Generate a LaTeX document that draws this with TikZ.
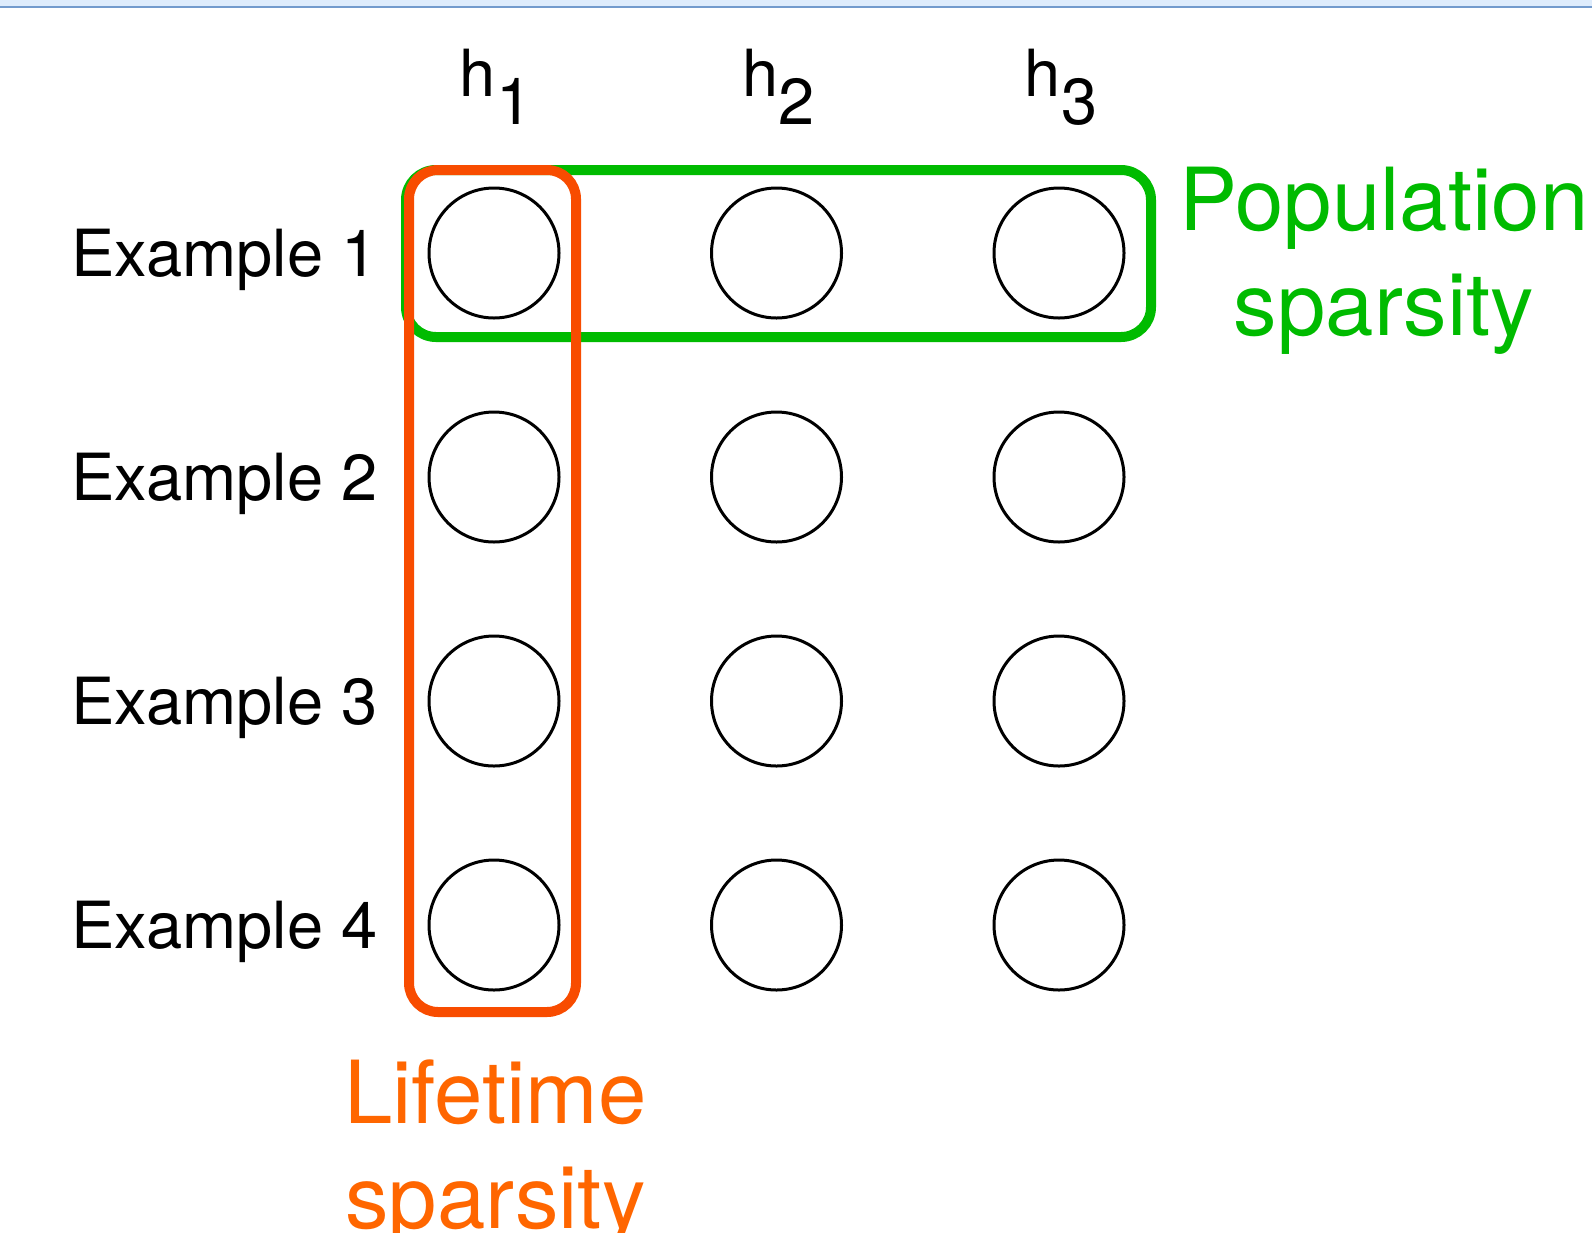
\documentclass[tikz,border=0pt]{standalone}
\usepackage{fontspec}
\setmainfont{TeX Gyre Heros}
\definecolor{popgreen}{RGB}{0,187,0}
\definecolor{lifebox}{RGB}{248,76,0}
\definecolor{lifetext}{RGB}{255,102,0}
\definecolor{topband}{RGB}{222,236,252}
\definecolor{topline}{RGB}{115,155,205}
\begin{document}
\begin{tikzpicture}[x=1pt,y=-1pt,
  unit/.style={circle,draw=black,line width=3pt,minimum size=130pt,inner sep=0pt},
  rowlabel/.style={anchor=base west,inner sep=0pt,font=\fontsize{65}{65}\selectfont},
  collabel/.style={anchor=base,inner sep=0pt,font=\fontsize{65}{65}\selectfont},
  poptext/.style={anchor=base,inner sep=0pt,text=popgreen,font=\fontsize{87}{105}\selectfont},
  lifetextstyle/.style={anchor=base,inner sep=0pt,text=lifetext,font=\fontsize{87}{105}\selectfont},
  groupbox/.style={line width=10pt,rounded corners=30pt}]
\useasboundingbox (0,0) rectangle (1592,1232);
\fill[white] (0,0) rectangle (1592,1232);
\fill[topband] (0,0) rectangle (1592,6);
\draw[topline,line width=2pt] (0,7) -- (1592,7);

% units
\foreach \r/\yy in {1/253,2/477,3/701,4/925}{
  \node[unit] (c\r1) at (494,\yy) {};
  \node[unit] (c\r2) at (776.5,\yy) {};
  \node[unit] (c\r3) at (1059,\yy) {};
}

% column labels
\node[collabel] (h1) at (496,96) {h\raisebox{-28pt}{1}};
\node[collabel] (h2) at (778.5,96) {h\raisebox{-28pt}{2}};
\node[collabel] (h3) at (1061,96) {h\raisebox{-28pt}{3}};

% row labels
\node[rowlabel] (e1) at (71,276) {Example 1};
\node[rowlabel] (e2) at (71,500) {Example 2};
\node[rowlabel] (e3) at (71,724) {Example 3};
\node[rowlabel] (e4) at (71,948) {Example 4};

% groups
\draw[groupbox,popgreen] (406,170) rectangle (1151,337);
\draw[groupbox,lifebox,rounded corners=29pt] (409,170) rectangle (576,1012);

\node[poptext] (pop1) at (1384,230) {Population};
\node[poptext] (pop2) at (1384,335) {sparsity};
\node[lifetextstyle] (life1) at (495.5,1123) {Lifetime};
\node[lifetextstyle] (life2) at (495.5,1228) {sparsity};
\end{tikzpicture}
\end{document}
